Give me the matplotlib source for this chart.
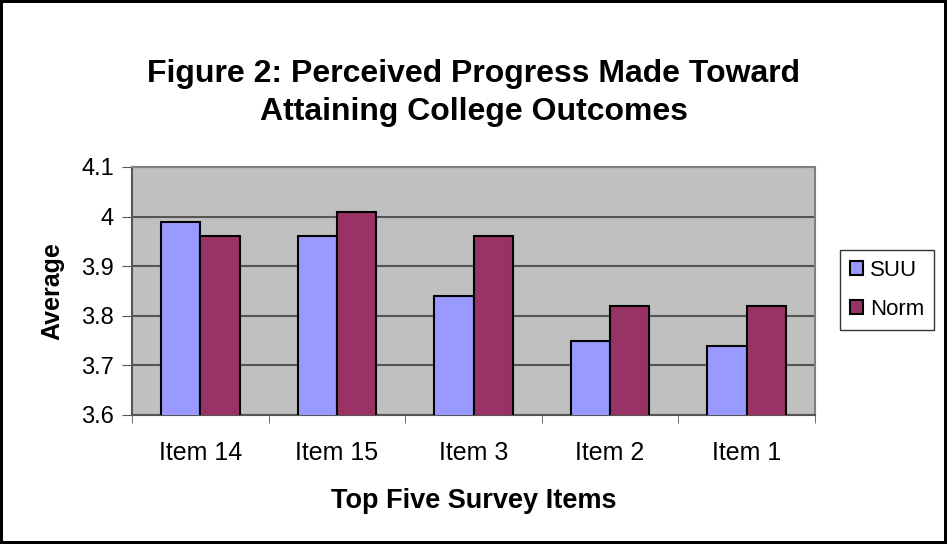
import matplotlib.pyplot as plt
import numpy as np

items = ["Item 14", "Item 15", "Item 3", "Item 2", "Item 1"]
suu = [3.99, 3.96, 3.84, 3.75, 3.74]
norm = [3.96, 4.01, 3.96, 3.82, 3.82]
yticks = [3.6, 3.7, 3.8, 3.9, 4.0, 4.1]
ytick_labels = ["3.6", "3.7", "3.8", "3.9", "4", "4.1"]


def main():
    plt.rcParams['font.family'] = ['Liberation Sans', 'DejaVu Sans']
    fig = plt.figure(figsize=(9.47, 5.44), dpi=100)
    fig.patch.set_edgecolor('black')
    fig.patch.set_linewidth(3)
    ax = fig.add_axes([132 / 947, 1 - 415 / 544, 683 / 947, 248 / 544])
    ax.set_facecolor('#c0c0c0')

    x = np.arange(len(items))
    w = 0.287
    ax.bar(x - w / 2, suu, w, color='#9999ff', edgecolor='black',
           linewidth=1.5, label='SUU', zorder=3)
    ax.bar(x + w / 2, norm, w, color='#993366', edgecolor='black',
           linewidth=1.5, label='Norm', zorder=3)

    ax.set_xlim(-0.5, len(items) - 0.5)
    ax.set_ylim(3.6, 4.1)
    ax.set_yticks(yticks)
    ax.set_yticklabels(ytick_labels, fontsize=17)
    ax.set_xticks(x)
    ax.set_xticklabels(items, fontsize=18)
    ax.set_xticks(np.arange(len(items) + 1) - 0.5, minor=True)
    ax.tick_params(axis='x', which='major', length=0, pad=19)
    ax.tick_params(axis='x', which='minor', length=6, color='#555555')
    ax.tick_params(axis='y', length=7, color='#555555', pad=6)
    ax.grid(axis='y', color='#555555', linewidth=1.5, zorder=0)
    for side in ['top', 'right']:
        ax.spines[side].set_color('#808080')
        ax.spines[side].set_linewidth(1.5)
    for side in ['left', 'bottom']:
        ax.spines[side].set_color('#555555')
        ax.spines[side].set_linewidth(1.5)

    ax.set_xlabel("Top Five Survey Items", fontsize=19.5, fontweight='bold',
                  labelpad=16)
    ax.set_ylabel("Average", fontsize=18, fontweight='bold', labelpad=12)
    fig.text(0.5, 1 - 93 / 544,
             "Figure 2: Perceived Progress Made Toward\nAttaining College Outcomes",
             ha='center', va='center', fontsize=23, fontweight='bold',
             linespacing=1.35)

    leg = fig.legend(loc='center', bbox_to_anchor=(887 / 947, 1 - 290 / 544),
                     fontsize=16, frameon=True, fancybox=False,
                     handlelength=0.6, handleheight=0.6, handletextpad=0.3,
                     borderpad=0.45, labelspacing=0.8, borderaxespad=0)
    leg.get_frame().set_edgecolor('black')
    leg.get_frame().set_linewidth(1)

    fig.savefig("out.png", dpi=100, edgecolor=fig.get_edgecolor())


if __name__ == '__main__':
    main()
